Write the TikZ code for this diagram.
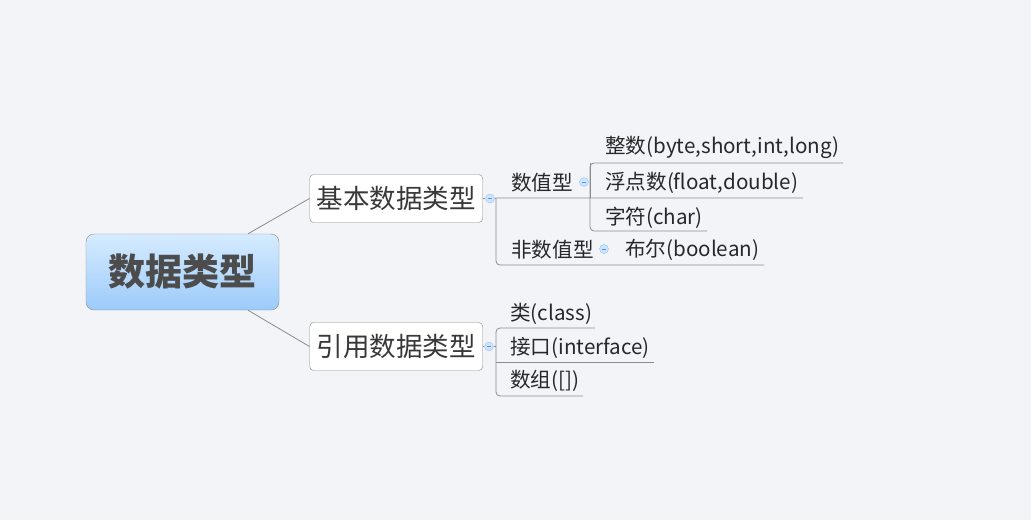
\documentclass[tikz,border=0pt]{standalone}
\usepackage{fontspec}
\setmainfont{Noto Sans CJK SC}
\usepackage{tikz}
\usetikzlibrary{positioning, calc}
\definecolor{bgc}{RGB}{243,244,248}
\definecolor{linec}{RGB}{140,140,140}
\definecolor{txtc}{RGB}{40,40,40}
\definecolor{knobfill}{RGB}{205,228,252}
\definecolor{knobline}{RGB}{150,196,240}
\definecolor{roottop}{RGB}{214,235,255}
\definecolor{rootbot}{RGB}{156,203,250}

\begin{document}
\begin{tikzpicture}[
    x=1pt, y=-1pt,
    rootbox/.style={
        draw=linec,
        rounded corners=8pt,
        top color=roottop,
        bottom color=rootbot,
        minimum width=193pt,
        minimum height=76pt,
        font=\fontsize{37}{40}\selectfont\bfseries,
        text=black!70
    },
    mainbox/.style={
        draw=linec,
        fill=white,
        rounded corners=4pt,
        minimum height=48pt,
        inner xsep=7pt,
        font=\fontsize{26.5}{30}\selectfont,
        text=black!78
    },
    leaf/.style={
        anchor=west,
        inner sep=0pt,
        font=\fontsize{20.6}{24}\selectfont,
        text=txtc
    },
    knob/.style={
        circle,
        draw=knobline,
        fill=knobfill,
        minimum size=9pt,
        inner sep=0pt,
        path picture={\draw[knobline!70!blue] ([xshift=-2.2pt]path picture bounding box.center)
            -- ([xshift=2.2pt]path picture bounding box.center);}
    },
    branch/.style={draw=linec, line width=0.8pt},
    bracket/.style={branch, rounded corners=4pt}
]
% Background and page size
\fill[bgc] (0,0) rectangle (1031,520);
\useasboundingbox (0,0) rectangle (1031,520);

% Root and its two main branches
\node[rootbox] (root) at (182.5, 272) {数据类型};
\node[mainbox, anchor=west] (basic) at (309.5, 198.5) {基本数据类型};
\node[mainbox, anchor=west] (ref) at (309.5, 346.5) {引用数据类型};
\draw[branch] (root.north) ++(65.5,0) coordinate (rt) -- (basic.west);
\draw[branch] (root.south) ++(65.5,0) coordinate (rb) -- (ref.west);

% Collapse knobs
\node[knob] (kb) at (490, 198.5) {};
\node[knob] (kr) at (489, 346.5) {};
\node[knob] (kn) at (584, 182) {};
\node[knob] (knn) at (604, 249) {};

% Children of basic types
\node[leaf] (num) at (511, 183) {数值型};
\node[leaf] (nonnum) at (511, 250) {非数值型};
\node[leaf] (int) at (605, 147) {整数(byte,short,int,long)};
\node[leaf] (flt) at (605, 183) {浮点数(float,double)};
\node[leaf] (chr) at (605, 217.5) {字符(char)};
\node[leaf] (bool) at (625, 250) {布尔(boolean)};

% Children of reference types
\node[leaf] (cls) at (510, 314) {类(class)};
\node[leaf] (ifc) at (510, 347.5) {接口(interface)};
\node[leaf] (arr) at (510, 381) {数组([])};

% Branch lines, basic side
\coordinate (bx) at (496, 198);
\coordinate (nx) at (590, 198);
\draw[branch] (basic.east) -- (kb.west);
\draw[branch] (kb.east) -- (bx) -- (nx) -- (803, 198);
\draw[bracket] (bx) -- (496, 265) -- (764, 265);
\draw[bracket] (843, 163) -- (590, 163) -- (590, 231) -- (707, 231);
\draw[branch] (590, 163) -- (nx);

% Branch lines, reference side
\coordinate (rx) at (496, 346.5);
\draw[branch] (ref.east) -- (kr.west);
\draw[branch] (kr.east) -- (rx);
\draw[bracket] (595, 328) -- (496, 328) -- (496, 396) -- (583, 396);
\draw[branch] (496, 362) -- (654, 362);
\end{tikzpicture}
\end{document}
